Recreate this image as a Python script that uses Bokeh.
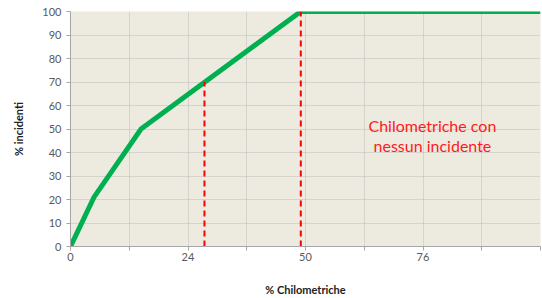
from bokeh.plotting import figure
from bokeh.models import Range1d, FixedTicker, Label
from bokeh.embed import file_html
from bokeh.resources import INLINE

# Data
km_pct = [0, 5, 15, 49, 100]
inc_pct = [0, 21, 50, 100, 100]
marker_x = [28.5, 49]
marker_top = [70, 100]
x_ticks = [0, 12.5, 25, 37.5, 50, 62.5, 75, 87.5, 100]
x_tick_labels = {0: "0", 12.5: "", 25: "24", 37.5: "", 50: "50", 62.5: "", 75: "76", 87.5: "", 100: ""}
y_ticks = [0, 10, 20, 30, 40, 50, 60, 70, 80, 90, 100]
annotation = ["Chilometriche con", "nessun incidente"]

FONT = "Lato"

p = figure(width=542, height=298, output_backend="svg", toolbar_location=None,
           x_range=Range1d(0, 100), y_range=Range1d(0, 100),
           min_border_left=70, min_border_right=2, min_border_top=11, min_border_bottom=52)
p.background_fill_color = "#EDEAE0"
p.border_fill_color = "white"
p.outline_line_color = None

for g in (p.xgrid[0], p.ygrid[0]):
    g.grid_line_color = "#BDBDBD"
    g.grid_line_dash = "1 1"
    g.grid_line_width = 1
p.xgrid[0].ticker = FixedTicker(ticks=x_ticks)
p.ygrid[0].ticker = FixedTicker(ticks=y_ticks)

xa = p.xaxis[0]
xa.ticker = FixedTicker(ticks=x_ticks)
xa.major_label_overrides = x_tick_labels
xa.axis_label = "% Chilometriche"
ya = p.yaxis[0]
ya.ticker = FixedTicker(ticks=y_ticks)
ya.axis_label = "% incidenti"
for a in (xa, ya):
    a.axis_line_color = "#A6A6A6"
    a.major_tick_line_color = "#A6A6A6"
    a.major_tick_out = 4
    a.major_tick_in = 0
    a.minor_tick_line_color = None
    a.major_label_text_font = FONT
    a.major_label_text_font_size = "11px"
    a.major_label_text_color = "#595959"
    a.axis_label_text_font = FONT
    a.axis_label_text_font_size = "11px"
    a.axis_label_text_font_style = "bold"
    a.axis_label_text_color = "#222222"
xa.major_label_standoff = 2
xa.axis_label_standoff = 19
ya.major_label_standoff = 5
ya.axis_label_standoff = 14

p.line(km_pct, inc_pct, line_color="#00B050", line_width=5, line_join="miter")
for mx, mt in zip(marker_x, marker_top):
    p.line([mx, mx], [0, mt], line_color="#FF0000", line_width=2, line_dash="6 4")

p.add_layout(Label(x=77, y=51.3, text=annotation[0], text_align="center", text_baseline="middle",
                   text_color="#FF1A1A", text_font=FONT, text_font_size="16px"))
p.add_layout(Label(x=77, y=42.8, text=annotation[1], text_align="center", text_baseline="middle",
                   text_color="#FF1A1A", text_font=FONT, text_font_size="16px"))

open("out.html", "w").write(file_html(p, INLINE))
